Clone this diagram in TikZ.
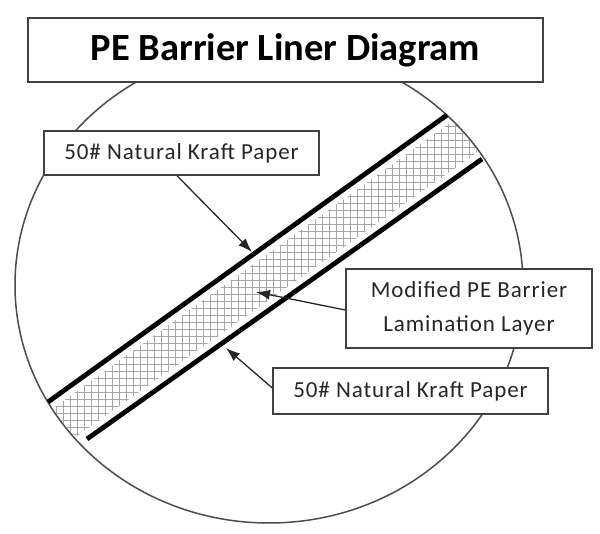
\documentclass[tikz,border=0pt]{standalone}
\usepackage{fontspec}
\setmainfont{Carlito}
\usetikzlibrary{arrows.meta}
\begin{document}
\begin{tikzpicture}[x=1pt,y=-1pt,
  box/.style={draw=black!75, line width=1.4pt, fill=white, inner sep=0pt},
  lbl/.style={box, font=\fontsize{23}{34}\selectfont\addfontfeatures{LetterSpace=4}, align=center, text=black!85},
  ptr/.style={draw=black!85, line width=1.3pt, -{Latex[length=14pt,width=10pt]}},
  kraft/.style={line width=4.8pt, black},
  hatchline/.style={black!35, line width=0.8pt}]
\useasboundingbox (0,0) rectangle (600,534);
% outer circle
\draw[black!70, line width=1.5pt] (269,285) ellipse [x radius=254, y radius=238];
% hatched PE layer
\begin{scope}
  \clip (269,285) ellipse [x radius=253, y radius=237];
  \clip (20.2,432) -- (484.2,98.2) -- (509.9,129.2) -- (49.7,455.4) -- cycle;
  \foreach \i in {0,...,87} {\draw[hatchline] (\i*7,0) -- (\i*7,534);}
  \foreach \j in {0,...,77} {\draw[hatchline] (0,\j*7) -- (600,\j*7);}
\end{scope}
% kraft paper lines
\draw[kraft] (48,402) -- (447,115);
\draw[kraft] (87,439) -- (482,159);
% boxes
\node[box, minimum width=515pt, minimum height=64pt, font=\fontsize{38.5}{40}\selectfont\bfseries] (title) at (285.5,50) {PE Barrier Liner Diagram};
\node[lbl, minimum width=275pt, minimum height=44pt] (k1) at (181.5,153) {50\# Natural Kraft Paper};
\node[lbl, minimum width=246pt, minimum height=79pt] (pe) at (469,308.5) {Modified PE Barrier\\Lamination Layer};
\node[lbl, minimum width=275pt, minimum height=46pt] (k2) at (410.5,391) {50\# Natural Kraft Paper};
% arrow tips
\coordinate (t1) at (252,252);
\coordinate (t2) at (256,292);
\coordinate (t3) at (226,348);
\draw[ptr] ([xshift=-4.5pt]k1.south) -- (t1);
\draw[ptr] ([yshift=-1.5pt]pe.west) -- (t2);
\draw[ptr] ([yshift=3pt]k2.west) -- (t3);
\end{tikzpicture}
\end{document}
